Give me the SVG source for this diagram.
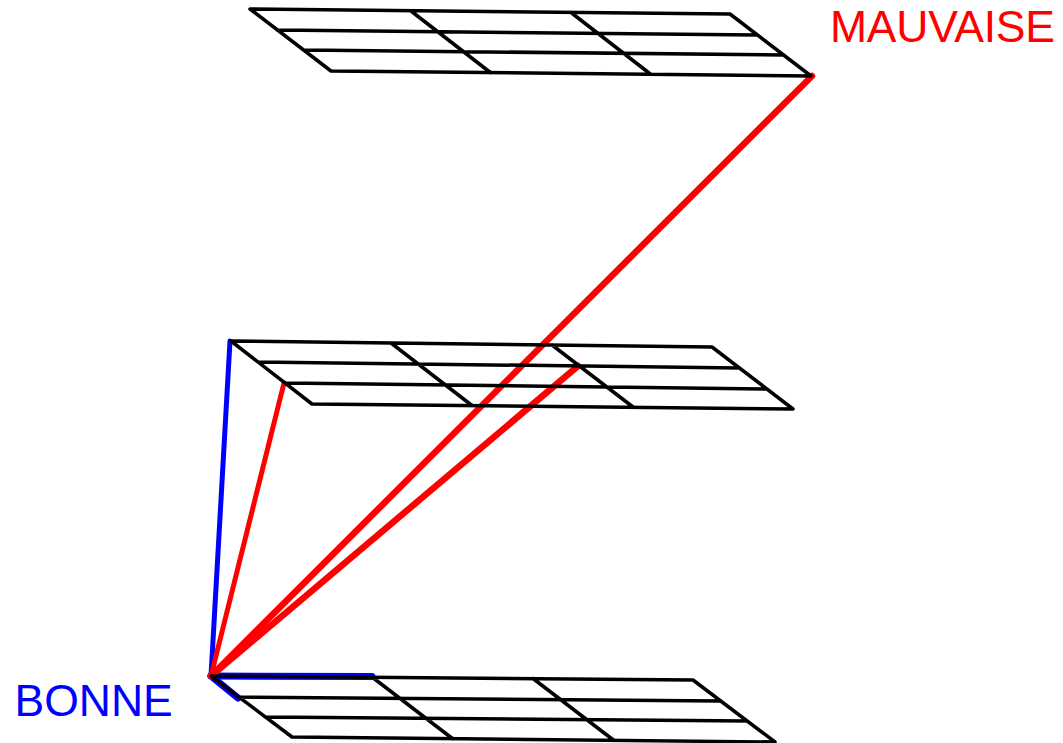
<svg xmlns="http://www.w3.org/2000/svg" width="1063" height="743" viewBox="0 0 1063 743">
<style>
.g{fill:none;stroke:#000;stroke-width:3.5;stroke-linecap:round;stroke-linejoin:round}
.t{font-family:"Liberation Sans",Arial,sans-serif;font-size:44.5px}
</style>
<rect width="1063" height="743" fill="#fff"/>
<g id="connectors" fill="none" stroke-linecap="round">
<path d="M211 676L230 341" stroke="#00f" stroke-width="5"/>
<path d="M211 676L372 676.500" stroke="#00f" stroke-width="7"/>
<path d="M211 676L238 698" stroke="#00f" stroke-width="7"/>
<path d="M211 676L284 383" stroke="#f00" stroke-width="5"/>
<path d="M211 676L578 366" stroke="#f00" stroke-width="6.500"/>
<path d="M211 676L812 76" stroke="#f00" stroke-width="6.500"/>
</g>
<g id="grid-top"><path class="g" d="M250 9L730 14L811 76L331 71ZM277 30L757 35M304 50L784 55M411 11L491 73M571 12.500L651 74.500"/></g>
<g id="grid-middle"><path class="g" d="M231 341L712 347L793 409L312 404ZM258 362L739 368M285 383L766 389M391 343L472 405.500M552 345L633 407"/></g>
<g id="grid-bottom"><path class="g" d="M211 676L693 680L775 742L292 737ZM238 697L720 701M265 717L747 721M372 677L453 739M533 678.500L614 740.500"/></g>
<g id="label-mauvaise"><text class="t" x="830" y="42" fill="#f00" letter-spacing="-0.25">MAUVAISE</text></g>
<g id="label-bonne"><text class="t" x="14.500" y="716" fill="#00f">BONNE</text></g>
</svg>
